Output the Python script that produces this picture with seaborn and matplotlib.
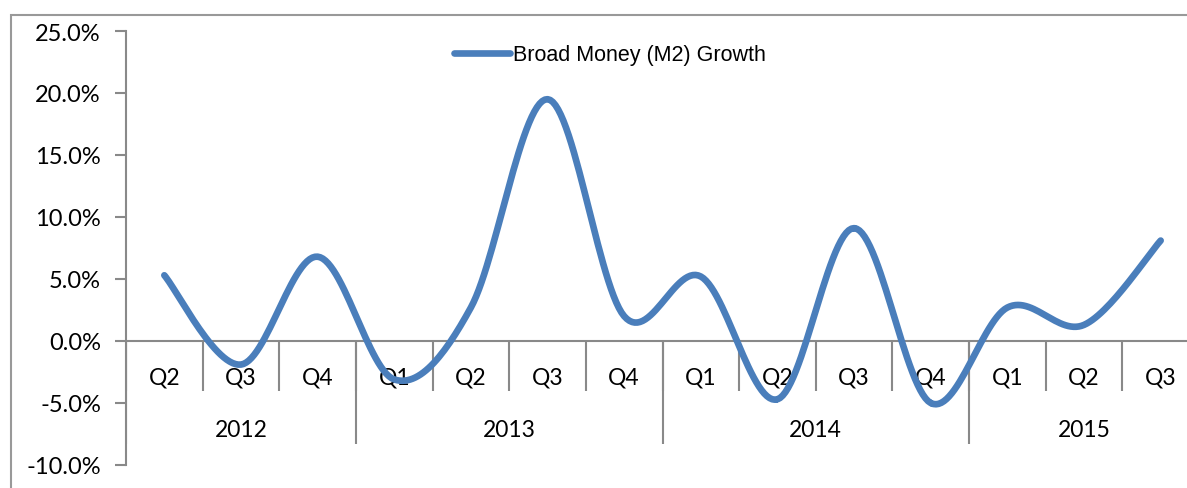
import numpy as np
import pandas as pd
import matplotlib
matplotlib.use("Agg")
import matplotlib.pyplot as plt
import seaborn as sns
from matplotlib.patches import Rectangle

# data (percent)
quarters = ["Q2", "Q3", "Q4", "Q1", "Q2", "Q3", "Q4", "Q1", "Q2", "Q3", "Q4", "Q1", "Q2", "Q3"]
years = ["2012", "2012", "2012", "2013", "2013", "2013", "2013",
         "2014", "2014", "2014", "2014", "2015", "2015", "2015"]
m2_growth = [5.3, -1.9, 6.8, -3.1, 2.7, 19.5, 2.0, 5.2, -4.7, 9.1, -5.0, 2.7, 1.3, 8.1]

series_name = "Broad Money (M2) Growth"
line_color = "#4A7EBB"
axis_color = "#898989"

sns.set_style("white")
plt.rcParams["font.family"] = ["Lato", "DejaVu Sans"]
plt.rcParams["text.color"] = "black"
plt.rcParams["ytick.labelcolor"] = "black"

df = pd.DataFrame({"quarter": quarters, "year": years, "value": m2_growth})
df["pos"] = np.arange(len(df))


# Excel-style smoothed line (Catmull-Rom through the points)
def smooth(x, y, n=30):
    x = np.asarray(x, float)
    y = np.asarray(y, float)
    px = np.concatenate([[x[0]], x, [x[-1]]])
    py = np.concatenate([[y[0]], y, [y[-1]]])
    xs, ys = [], []
    t = np.linspace(0, 1, n)
    for i in range(1, len(px) - 2):
        for arr, out in ((px, xs), (py, ys)):
            p0, p1, p2, p3 = arr[i - 1], arr[i], arr[i + 1], arr[i + 2]
            out.extend(0.5 * ((2 * p1) + (-p0 + p2) * t
                              + (2 * p0 - 5 * p1 + 4 * p2 - p3) * t ** 2
                              + (-p0 + 3 * p1 - 3 * p2 + p3) * t ** 3))
    return np.array(xs), np.array(ys)


sx, sy = smooth(df["pos"], df["value"])
curve = pd.DataFrame({"pos": sx, "value": sy, "series": series_name})

fig = plt.figure(figsize=(11.87, 4.89), dpi=100)
W, H = 1187, 489
ax = fig.add_axes([126 / W, 1 - 466 / H, (1199 - 126) / W, (466 - 32) / H])

sns.lineplot(data=curve, x="pos", y="value", hue="series", palette=[line_color],
             linewidth=4.8, ax=ax, estimator=None, sort=False, zorder=5,
             solid_capstyle="round")

ax.set_xlim(-0.5, len(df) - 0.5)
ax.set_ylim(-10, 25)
ax.set_yticks(np.arange(-10, 26, 5))
ax.set_yticklabels([f"{v:.1f}%" for v in np.arange(-10, 26, 5)], fontsize=17)
ax.set_xticks([])
ax.set_xlabel("")
ax.set_ylabel("")

for s in ["top", "right"]:
    ax.spines[s].set_visible(False)
ax.spines["bottom"].set_position(("data", 0))
ax.spines["bottom"].set_color(axis_color)
ax.spines["bottom"].set_linewidth(1.5)
ax.spines["left"].set_color(axis_color)
ax.spines["left"].set_linewidth(1.5)
ax.tick_params(axis="y", length=8, width=1.5, color=axis_color, pad=10, left=True)

# category axis: quarter cells and year groups
q_bottom = -4.0
y_bottom = -8.3
for p in df["pos"]:
    ax.vlines(p - 0.5, q_bottom, 0, color=axis_color, lw=1.5, zorder=2)
    ax.text(p, -2.9, df.loc[p, "quarter"], ha="center", va="center", fontsize=16.5, zorder=3)
groups = df.groupby("year", sort=False)["pos"].agg(["min", "max"])
for yr, g in groups.iterrows():
    ax.vlines(g["min"] - 0.5, y_bottom, 0, color=axis_color, lw=1.5, zorder=2)
    ax.text((g["min"] + g["max"]) / 2, -7.1, yr, ha="center", va="center", fontsize=16.5, zorder=3)

leg = ax.legend(loc="center", bbox_to_anchor=(0.451, 0.945), frameon=False,
                prop={"family": ["Liberation Sans Narrow", "Liberation Sans"], "size": 15.5},
                handlelength=2.6, handletextpad=0.1)

# outer chart border
fig.patches.append(Rectangle((11 / W, -0.1), 1.2, 1 - 16 / H + 0.1, transform=fig.transFigure,
                             fill=False, edgecolor="#999999", lw=1.5))

fig.savefig("out.png", dpi=100)
